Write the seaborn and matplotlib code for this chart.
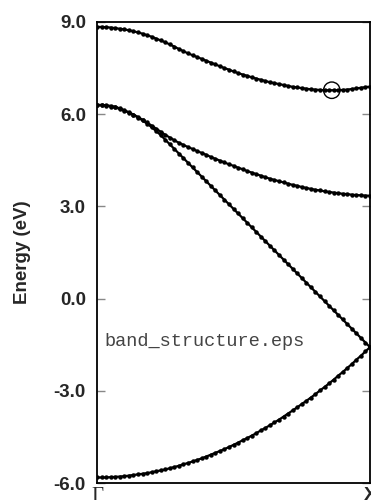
import numpy as np
import pandas as pd
import matplotlib
matplotlib.use("Agg")
import matplotlib.pyplot as plt
import seaborn as sns

# ---- data (k from Gamma=0 to X=1, 61 points) ----
n_pts = 61
k_points = [i / (n_pts - 1) for i in range(n_pts)]

band1 = [8.84, 8.84, 8.83, 8.82, 8.80, 8.78, 8.76, 8.73, 8.70, 8.66,
         8.62, 8.57, 8.52, 8.46, 8.40, 8.34, 8.27, 8.20, 8.12, 8.05,
         7.98, 7.92, 7.86, 7.80, 7.74, 7.68, 7.62, 7.56, 7.50, 7.45,
         7.39, 7.34, 7.29, 7.25, 7.20, 7.16, 7.12, 7.08, 7.04, 7.01,
         6.98, 6.95, 6.92, 6.89, 6.87, 6.85, 6.83, 6.81, 6.80, 6.79,
         6.78, 6.78, 6.78, 6.78, 6.79, 6.80, 6.82, 6.84, 6.86, 6.88,
         6.90]
band2 = [6.30, 6.30, 6.29, 6.27, 6.24, 6.19, 6.13, 6.06, 5.99, 5.91,
         5.82, 5.73, 5.63, 5.53, 5.43, 5.33, 5.24, 5.15, 5.07, 5.00,
         4.93, 4.87, 4.80, 4.74, 4.68, 4.61, 4.55, 4.49, 4.43, 4.37,
         4.32, 4.26, 4.21, 4.15, 4.10, 4.05, 4.00, 3.95, 3.90, 3.86,
         3.82, 3.78, 3.74, 3.70, 3.67, 3.63, 3.60, 3.57, 3.54, 3.52,
         3.49, 3.47, 3.45, 3.43, 3.41, 3.40, 3.38, 3.37, 3.36, 3.35,
         3.35]
band3 = [6.30, 6.30, 6.28, 6.25, 6.22, 6.17, 6.12, 6.05, 5.98, 5.89,
         5.80, 5.69, 5.58, 5.45, 5.32, 5.17, 5.02, 4.87, 4.72, 4.57,
         4.42, 4.27, 4.12, 3.97, 3.82, 3.67, 3.52, 3.37, 3.22, 3.07,
         2.92, 2.77, 2.62, 2.47, 2.32, 2.17, 2.02, 1.87, 1.72, 1.57,
         1.42, 1.27, 1.12, 0.97, 0.82, 0.67, 0.52, 0.37, 0.22, 0.07,
         -0.08, -0.23, -0.38, -0.53, -0.68, -0.83, -0.98, -1.13, -1.28, -1.43,
         -1.58]
band4 = [-5.82, -5.82, -5.82, -5.81, -5.80, -5.79, -5.78, -5.76, -5.74, -5.72,
         -5.70, -5.68, -5.65, -5.62, -5.59, -5.56, -5.52, -5.48, -5.44, -5.39,
         -5.35, -5.30, -5.25, -5.20, -5.14, -5.08, -5.02, -4.96, -4.90, -4.83,
         -4.76, -4.69, -4.61, -4.54, -4.46, -4.38, -4.29, -4.21, -4.12, -4.03,
         -3.94, -3.84, -3.74, -3.64, -3.54, -3.43, -3.33, -3.22, -3.11, -2.99,
         -2.88, -2.76, -2.64, -2.51, -2.39, -2.26, -2.13, -1.99, -1.86, -1.72,
         -1.58]

band_names = ["band1", "band2", "band3", "band4"]
highlight_k = [0.86]
highlight_E = [6.78]

y_ticks = [-6.0, -3.0, 0.0, 3.0, 6.0, 9.0]
y_tick_labels = ["-6.0", "-3.0", "0.0", "3.0", "6.0", "9.0"]
x_ticks = [0.0, 1.0]
x_tick_labels = ["\u0393", "X"]
annotation = "band_structure.eps"
y_label = "Energy (eV)"

# ---- build long table ----
frames = []
for name, vals in zip(band_names, [band1, band2, band3, band4]):
    frames.append(pd.DataFrame({"k": k_points, "E": vals, "band": name}))
df = pd.concat(frames, ignore_index=True)

sns.set_style("white")
plt.rcParams["font.family"] = ["Liberation Sans", "DejaVu Sans"]

fig = plt.figure(figsize=(3.71, 5.0), dpi=100)
ax = fig.add_axes([97 / 371, 1 - 483 / 500, 273 / 371, (483 - 22) / 500])

sns.lineplot(data=df, x="k", y="E", units="band", estimator=None,
             color="black", linewidth=1.6, marker="o", markersize=3.2,
             markeredgewidth=0, sort=False, ax=ax, legend=False)

sns.scatterplot(x=highlight_k, y=highlight_E, ax=ax, s=140,
                facecolor="none", edgecolor="black", linewidth=1.0,
                legend=False, zorder=5)

ax.set_xlim(0, 1)
ax.set_ylim(-6, 9)

ax.set_yticks(y_ticks)
ax.set_yticklabels(y_tick_labels, fontsize=13.5, fontweight="bold")
ax.tick_params(axis="y", direction="in", length=6, width=1.0,
               color="#888888", left=True, right=True, pad=8)

ax.set_xticks(x_ticks)
ax.set_xticklabels(x_tick_labels)
ax.tick_params(axis="x", length=0, pad=3)
xl = ax.get_xticklabels()
xl[0].set_fontfamily(["Liberation Serif", "DejaVu Serif"])
xl[0].set_fontsize(15)
xl[1].set_fontsize(14)
xl[1].set_fontweight("bold")

ax.set_xlabel("")
ax.set_ylabel(y_label, fontsize=13.5, fontweight="bold", labelpad=16)

for s in ax.spines.values():
    s.set_color("black")
    s.set_linewidth(1.3)

ax.text(0.026, -1.38, annotation, fontsize=13.4, color="#444444",
        family=["Liberation Mono", "DejaVu Sans Mono"], va="center", ha="left")

fig.savefig("out.png", dpi=100)
